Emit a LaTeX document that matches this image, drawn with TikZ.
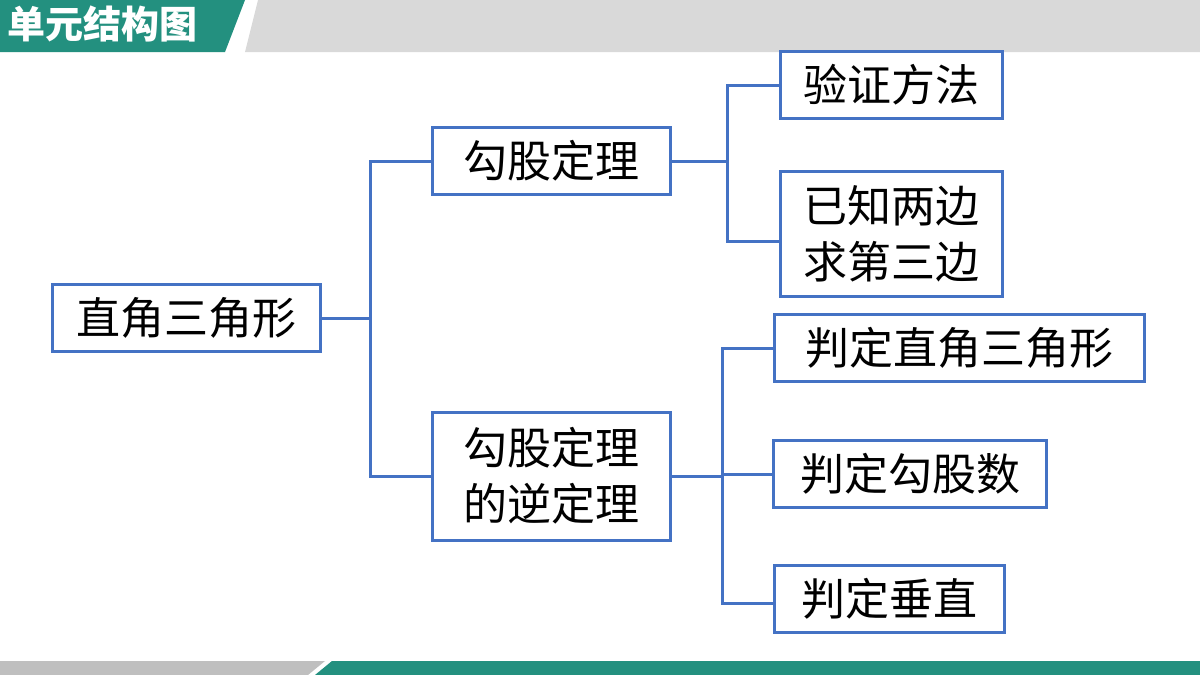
\documentclass[tikz,border=0pt]{standalone}
\usepackage{fontspec}
\setmainfont{Noto Sans CJK SC}
\definecolor{teal1}{HTML}{23907F}
\definecolor{gray1}{HTML}{D9D9D9}
\definecolor{gray2}{HTML}{BFBFBF}
\definecolor{blue1}{HTML}{4472C4}
\begin{document}
\begin{tikzpicture}[x=1pt,y=-1pt,
  bx/.style={draw=blue1,line width=3pt,minimum height=67pt,inner sep=0pt,font=\fontsize{44}{56}\selectfont,align=center},
  ln/.style={draw=blue1,line width=3pt}]
\useasboundingbox (0,0) rectangle (1200,675);
\fill[white] (0,0) rectangle (1200,675);
\fill[teal1] (0,0) -- (245,0) -- (225,52) -- (0,52) -- cycle;
\fill[gray1] (258,0) -- (1200,0) -- (1200,52) -- (245,52) -- cycle;
\node[anchor=west,text=white,font=\fontsize{38}{40}\selectfont\bfseries] (title) at (4,24) {单元结构图};
\fill[gray2] (0,661) -- (325,661) -- (308,675) -- (0,675) -- cycle;
\fill[teal1] (332,661) -- (1200,661) -- (1200,675) -- (315,675) -- cycle;
\node[bx,minimum width=268pt] (a) at (186,318) {直角三角形};
\node[bx,minimum width=238pt] (b) at (551,161) {勾股定理};
\node[bx,minimum width=238pt,minimum height=128pt] (c) at (551,476) {勾股定理\\的逆定理};
\node[bx,minimum width=222pt] (d) at (891,85) {验证方法};
\node[bx,minimum width=222pt,minimum height=125pt] (e) at (891,234) {已知两边\\求第三边};
\node[bx,minimum width=370pt] (f) at (959,348) {判定直角三角形};
\node[bx,minimum width=273pt] (g) at (910,474) {判定勾股数};
\node[bx,minimum width=230pt] (h) at (889,599) {判定垂直};
\coordinate (j1) at (370,318);
\draw[ln] (a.east) -- (j1);
\draw[ln] (b.west) -- (370,161) -- (370,476) -- (c.west);
\coordinate (j2) at (727,161);
\draw[ln] (b.east) -- (j2);
\draw[ln] (d.west) -- (727,85) -- (727,241) -- (780,241);
\coordinate (j3) at (722,476);
\draw[ln] (c.east) -- (j3);
\draw[ln] (f.west) -- (722,348) -- (722,603) -- (774,603);
\draw[ln] (722,474) -- (g.west);
\end{tikzpicture}
\end{document}
